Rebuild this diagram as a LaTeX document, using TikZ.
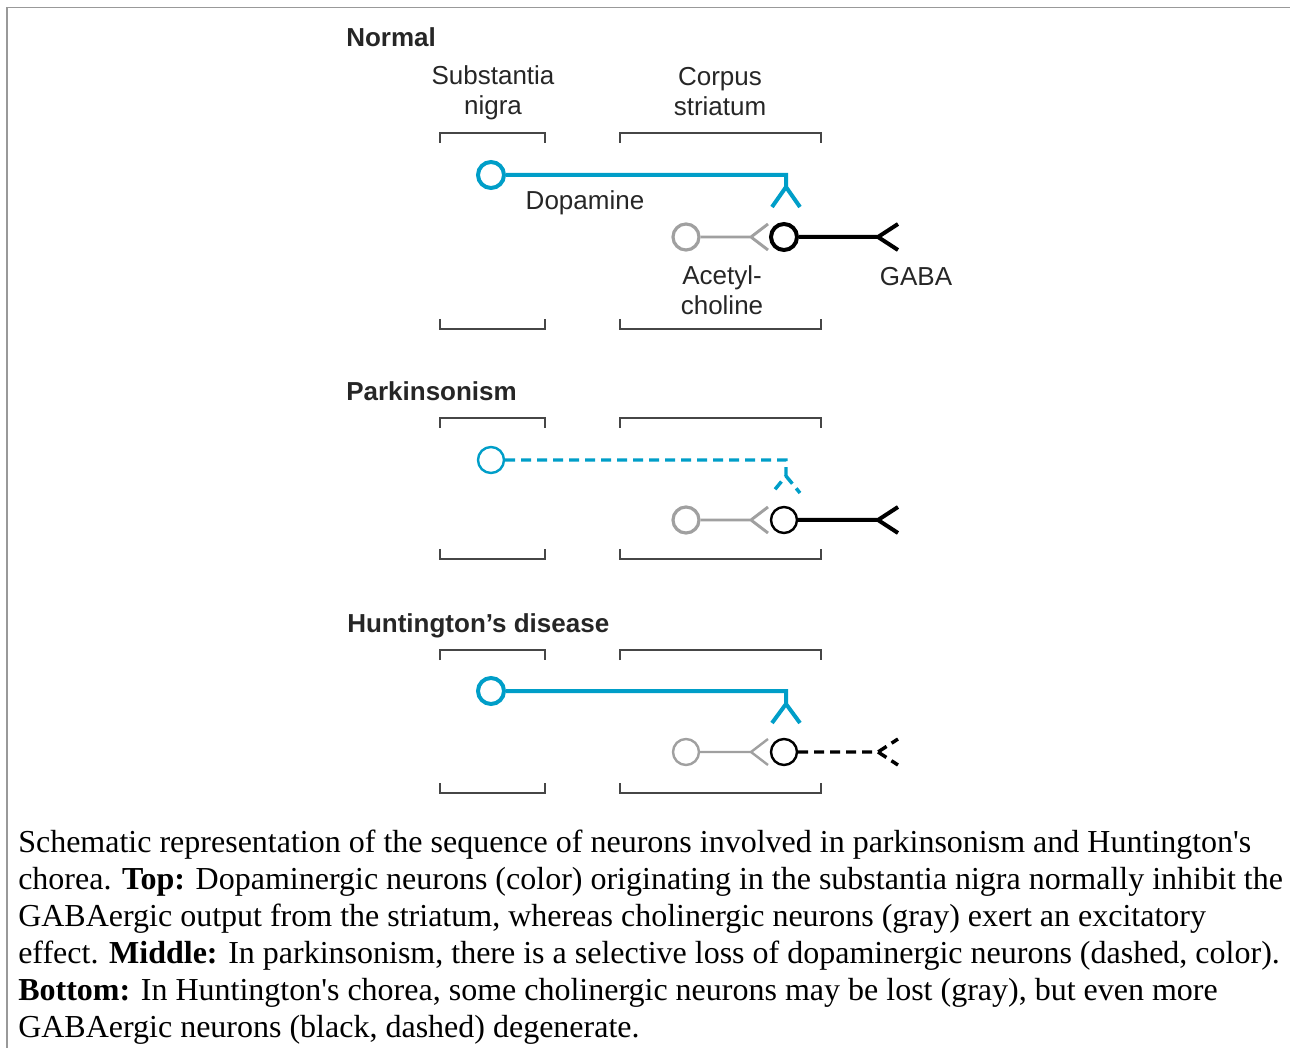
\documentclass[tikz,border=0pt]{standalone}
\usepackage{fontspec}
\setmainfont{Liberation Sans}
\newfontfamily\capfont{Liberation Serif}
\usetikzlibrary{positioning}
\definecolor{dacolor}{RGB}{0,158,200}
\definecolor{achcolor}{RGB}{160,160,160}
\definecolor{brkcolor}{RGB}{70,70,70}
\definecolor{framecolor}{RGB}{153,153,153}

\begin{document}
\begin{tikzpicture}[x=0.75pt,y=-0.75pt,
  every node/.style={font=\fontsize{19.5}{22.5}\selectfont, text=black!85},
  title/.style={font=\fontsize{19.5}{22.5}\selectfont\bfseries, anchor=west, inner sep=0pt},
  region/.style={align=center},
  caption/.style={anchor=north west, align=left, inner sep=0pt, text=black,
    font=\capfont\fontsize{24}{27.75}\selectfont},
  frame/.style={line width=1.1pt, color=framecolor},
  bracket/.style={line width=1.4pt, color=brkcolor},
  cell/.style={circle, inner sep=0pt, minimum size=19.5pt, fill=white},
  dacell/.style={cell, draw=dacolor, line width=3pt},
  achcell/.style={cell, draw=achcolor, line width=2.4pt},
  gabacell/.style={cell, draw=black, line width=3pt},
  da/.style={line width=3pt, color=dacolor},
  ach/.style={line width=2.2pt, color=achcolor},
  gaba/.style={line width=3pt, color=black},
  weak/.style={line width=1.8pt},
  lost/.style={line width=2.6pt, dash pattern=on 7.5pt off 4.5pt}
]
  \useasboundingbox (0,0) rectangle (1290,1048);
  \draw[frame] (7,1048) -- (7,7.5) -- (1290,7.5);

  % region brackets
  \foreach \ya/\yb in {133/329, 418/559, 650/793}
    \foreach \xa/\xb in {440/545, 620/821} {
      \draw[bracket] (\xa,\ya+10) -- (\xa,\ya) -- (\xb,\ya) -- (\xb,\ya+10);
      \draw[bracket] (\xa,\yb-10) -- (\xa,\yb) -- (\xb,\yb) -- (\xb,\yb-10);
    }

  % Normal
  \node[title] (normal) at (346,37) {Normal};
  \node[region] (sn) at (493,93) {Substantia\\nigra};
  \node[region] (cs) at (720,92) {Corpus\\striatum};

  \node[dacell] (da1) at (491,175) {};
  \coordinate (da1t) at (786,187);
  \draw[da] (da1) -| (da1t) -- ++(-14,20) (da1t) -- ++(14,20);
  \node (dalabel) at (585,203) {Dopamine};

  \node[achcell] (ach1) at (686,237) {};
  \coordinate (ach1t) at (751,237);
  \draw[ach] (ach1) -- (ach1t) -- ++(17,-13) (ach1t) -- ++(17,13);
  \node[gabacell] (gaba1) at (784,237) {};
  \coordinate (gaba1t) at (878,237);
  \draw[gaba] (gaba1) -- (gaba1t) -- ++(20,-13) (gaba1t) -- ++(20,13);
  \node[region] (achlabel) at (722,290) {Acetyl-\\choline};
  \node (gabalabel) at (916,277) {GABA};

  % Parkinsonism
  \node[title] (park) at (346,391) {Parkinsonism};

  \node[dacell, weak] (da2) at (491,460) {};
  \coordinate (da2t) at (786,476);
  \draw[da, weak, lost] (da2) -| (da2t) -- ++(-14,17) (da2t) -- ++(14,17);

  \node[achcell] (ach2) at (686,520) {};
  \coordinate (ach2t) at (751,520);
  \draw[ach] (ach2) -- (ach2t) -- ++(17,-13) (ach2t) -- ++(17,13);
  \node[gabacell, weak] (gaba2) at (784,520) {};
  \coordinate (gaba2t) at (878,520);
  \draw[gaba] (gaba2) -- (gaba2t) -- ++(20,-13) (gaba2t) -- ++(20,13);

  % Huntington's disease
  \node[title] (hunt) at (347,626) {Huntington's disease};

  \node[dacell] (da3) at (491,691) {};
  \coordinate (da3t) at (786,704);
  \draw[da] (da3) -| (da3t) -- ++(-14,19) (da3t) -- ++(14,19);

  \node[achcell, weak] (ach3) at (686,752) {};
  \coordinate (ach3t) at (751,752);
  \draw[ach, weak] (ach3) -- (ach3t) -- ++(17,-13) (ach3t) -- ++(17,13);
  \node[gabacell, weak] (gaba3) at (784,752) {};
  \coordinate (gaba3t) at (878,752);
  \draw[gaba, weak, lost] (gaba3) -- (gaba3t) -- ++(20,-13) (gaba3t) -- ++(20,13);

  % caption
  \node[caption] (cap) at (18,830) {Schematic representation of the sequence of neurons involved in parkinsonism and Huntington's\\
    chorea. \textbf{Top:} Dopaminergic neurons (color) originating in the substantia nigra normally inhibit the\\
    GABAergic output from the striatum, whereas cholinergic neurons (gray) exert an excitatory\\
    effect. \textbf{Middle:} In parkinsonism, there is a selective loss of dopaminergic neurons (dashed, color).\\
    \textbf{Bottom:} In Huntington's chorea, some cholinergic neurons may be lost (gray), but even more\\
    GABAergic neurons (black, dashed) degenerate.};
\end{tikzpicture}
\end{document}
